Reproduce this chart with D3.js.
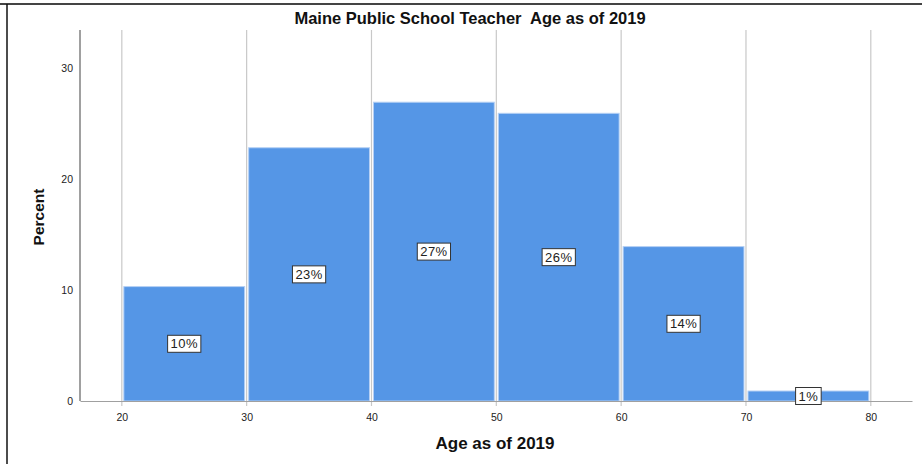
<!DOCTYPE html>
<html><head><meta charset="utf-8">
<script src="https://cdn.jsdelivr.net/npm/d3@7"></script>
<style>body{margin:0;background:#fff}svg{display:block;font-family:Arial,"Liberation Sans",sans-serif}</style>
</head><body><svg id="c" width="922" height="466"></svg>
<script>
const binStarts = [20, 30, 40, 50, 60, 70];
const binWidth = 10;
const percents = [10.3, 22.8, 26.9, 25.9, 13.9, 0.9];
const labels = ["10%", "23%", "27%", "26%", "14%", "1%"];
const xTicks = [20, 30, 40, 50, 60, 70, 80];
const yTicks = [0, 10, 20, 30];

const svg = d3.select("#c");
const x = d3.scaleLinear().domain([16.65, 83.3]).range([80, 912]);
const y = d3.scaleLinear().domain([0, 33.4]).range([401, 30]);

// frame
svg.append("line").attr("x1",0).attr("x2",922).attr("y1",4).attr("y2",4).attr("stroke","#444").attr("stroke-width",2);
svg.append("line").attr("x1",7).attr("x2",7).attr("y1",4).attr("y2",464).attr("stroke","#111").attr("stroke-width",1.5);

// gridlines
svg.append("g").selectAll("line").data(xTicks).join("line")
  .attr("x1",d=>x(d)).attr("x2",d=>x(d)).attr("y1",y.range()[1]).attr("y2",y(0)+5)
  .attr("stroke","#c8c8c8").attr("stroke-width",1.2);

// bars
svg.append("g").selectAll("rect").data(binStarts).join("rect")
  .attr("x",d=>x(d)+2).attr("width",d=>x(d+binWidth)-x(d)-4)
  .attr("y",(d,i)=>y(percents[i])).attr("height",(d,i)=>y(0)-y(percents[i]))
  .attr("fill","#5596e6").attr("stroke","#b5d0f4").attr("stroke-width",1);

// y axis line
svg.append("line").attr("x1",80).attr("x2",80).attr("y1",30).attr("y2",y(0)).attr("stroke","#a0a0a0").attr("stroke-width",2);
// x axis
const xa = svg.append("g").attr("transform",`translate(0,${y(0)})`)
  .call(d3.axisBottom(x).tickValues(xTicks).tickSize(0).tickPadding(13).tickSizeOuter(0));
xa.select(".domain").attr("stroke","#a0a0a0").attr("stroke-width",1.2);
xa.selectAll("text").attr("font-size",10.5).attr("fill","#222");

const ya = svg.append("g").attr("transform","translate(80,0)")
  .call(d3.axisLeft(y).tickValues(yTicks).tickSize(0).tickPadding(7));
ya.select(".domain").remove();
ya.selectAll("text").attr("font-size",10.5).attr("fill","#222");

// labels
const lg = svg.append("g").selectAll("g").data(binStarts).join("g")
  .attr("transform",(d,i)=>`translate(${x(d+binWidth/2)},${(y(0)+y(percents[i]))/2})`);
lg.each(function(d,i){
  const g = d3.select(this);
  const t = g.append("text").attr("text-anchor","middle").attr("dy","0.36em")
    .attr("font-size",13).attr("letter-spacing",0.4).attr("fill","#222").text(labels[i]);
  const w = t.node().getComputedTextLength()+6;
  g.insert("rect","text").attr("x",-w/2).attr("y",-8.5).attr("width",w).attr("height",17)
    .attr("fill","#fff").attr("stroke","#333").attr("stroke-width",1);
});

// titles
svg.append("text").attr("x",470).attr("y",24).attr("text-anchor","middle").style("white-space","pre")
  .attr("font-size",16.5).attr("font-weight","bold").attr("fill","#111").text("Maine Public School Teacher  Age as of 2019");
svg.append("text").attr("x",495).attr("y",449).attr("text-anchor","middle")
  .attr("font-size",17).attr("font-weight","bold").attr("fill","#111").text("Age as of 2019");
svg.append("text").attr("transform","translate(44,217) rotate(-90)").attr("text-anchor","middle")
  .attr("font-size",15.5).attr("font-weight","bold").attr("fill","#111").text("Percent");
</script></body></html>
